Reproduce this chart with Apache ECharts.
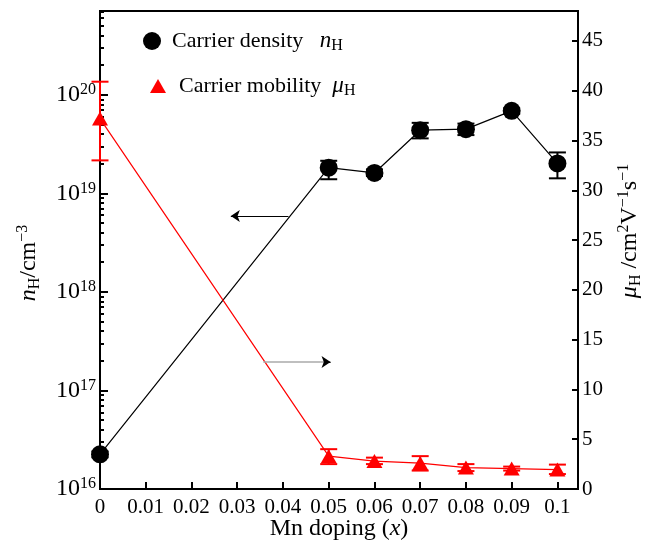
<!DOCTYPE html>
<html><head><meta charset="utf-8">
<script src="https://cdn.jsdelivr.net/npm/echarts@6/dist/echarts.min.js"></script>
<style>html,body{margin:0;padding:0;background:#fff}#c{width:651px;height:545px}</style>
</head><body><div id="c"></div>
<script>
// ---- data ----
const doping = [0, 0.05, 0.06, 0.07, 0.08, 0.09, 0.1];
const density = [2.25e16, 1.82e19, 1.61e19, 4.37e19, 4.48e19, 6.87e19, 2.01e19];
const densityLow = [2.1e16, 1.39e19, 1.5e19, 3.61e19, 3.9e19, 6.4e19, 1.42e19];
const densityHigh = [2.4e16, 2.14e19, 1.75e19, 5.19e19, 5.1e19, 7.3e19, 2.6e19];
const mobility = [37.2, 3.3, 2.8, 2.6, 2.15, 2.05, 1.95];
const mobilityLow = [33.0, 2.5, 2.5, 1.85, 1.8, 1.85, 1.5];
const mobilityHigh = [40.9, 4.0, 3.15, 3.3, 2.5, 2.25, 2.45];
const xTicks = [0, 0.01, 0.02, 0.03, 0.04, 0.05, 0.06, 0.07, 0.08, 0.09, 0.1];
const mobilityTicks = [0, 5, 10, 15, 20, 25, 30, 35, 40, 45];
const densityDecades = [1e16, 1e17, 1e18, 1e19, 1e20];
const densityMax = 7.08e20;
const arrowLeftFrom = [0.0412, 5.9e18], arrowLeftTo = [0.0286, 5.9e18];
const arrowRightFrom = [0.0357, 12.75], arrowRightTo = [0.0504, 12.75];

const densityMinor = [];
densityDecades.forEach(d => { for (let m = 2; m <= 9; m++) { if (d * m < densityMax) densityMinor.push(d * m); } });

const FF = "'Liberation Serif','Times New Roman',serif";
const chart = echarts.init(document.getElementById('c'));

function errorSeries(low, high, color, yIndex) {
  return {
    type: 'custom', xAxisIndex: 0, yAxisIndex: yIndex, z: 2, silent: true, clip: false,
    encode: { x: 0, y: [1, 2] },
    data: doping.map((x, i) => [x, low[i], high[i]]),
    renderItem: (params, api) => {
      const x = api.value(0);
      const lo = api.coord([x, api.value(1)]);
      const hi = api.coord([x, api.value(2)]);
      const w = 8.5;
      const st = { stroke: color, lineWidth: 2 };
      return { type: 'group', children: [
        { type: 'line', shape: { x1: lo[0], y1: lo[1], x2: hi[0], y2: hi[1] }, style: st },
        { type: 'line', shape: { x1: lo[0] - w, y1: lo[1], x2: lo[0] + w, y2: lo[1] }, style: st },
        { type: 'line', shape: { x1: hi[0] - w, y1: hi[1], x2: hi[0] + w, y2: hi[1] }, style: st }
      ]};
    }
  };
}

const legendRich = {
  i: { fontSize: 23, fontFamily: FF, fontStyle: 'italic', color: '#000', lineHeight: 26 },
  sub: { fontSize: 16, fontFamily: FF, color: '#000', verticalAlign: 'bottom', lineHeight: 15 }
};
const supStyle = { fontSize: 16, fontFamily: FF, color: '#000', verticalAlign: 'top', lineHeight: 14 };
const option = {
  backgroundColor: '#fff',
  animation: false,
  grid: { left: 100, right: 73, top: 11, bottom: 56, show: true, borderColor: '#000', borderWidth: 2,
    backgroundColor: 'transparent', outerBoundsMode: 'none', containLabel: false },
  legend: [
    { data: [{ name: 'density', icon: 'circle' }], left: 138, top: 23, itemWidth: 18, itemHeight: 18,
      selectedMode: false,
      formatter: () => 'Carrier density   {i|n}{sub|H}',
      textStyle: { fontSize: 22, fontFamily: FF, color: '#000', padding: [0, 0, 0, 6], lineHeight: 26, rich: legendRich } },
    { data: [{ name: 'mobility', icon: 'triangle' }], left: 145, top: 68, itemWidth: 16, itemHeight: 14,
      selectedMode: false,
      formatter: () => 'Carrier mobility  {i|μ}{sub|H}',
      textStyle: { fontSize: 22, fontFamily: FF, color: '#000', padding: [0, 0, 0, 8], lineHeight: 26, rich: legendRich } }
  ],
  xAxis: {
    type: 'value', min: 0, max: 0.1045, interval: 0.01,
    axisLine: { lineStyle: { color: '#000', width: 2 } },
    axisTick: { inside: true, length: 7, customValues: xTicks, lineStyle: { color: '#000', width: 2 } },
    axisLabel: { customValues: xTicks, fontSize: 21, fontFamily: FF, color: '#000', margin: 8,
      formatter: v => String(+(+v).toFixed(2)) },
    splitLine: { show: false },
    name: 'Mn doping ({i|x})', nameLocation: 'middle', nameGap: 28, nameMoveOverlap: false,
    nameTextStyle: { fontSize: 24, fontFamily: FF, color: '#000',
      rich: { i: { fontSize: 24, fontFamily: FF, fontStyle: 'italic', color: '#000' } } }
  },
  yAxis: [
    { type: 'log', logBase: 10, min: 1e16, max: densityMax, position: 'left',
      axisLine: { show: true, lineStyle: { color: '#000', width: 2 } },
      axisTick: { inside: true, length: 8, customValues: densityDecades, lineStyle: { color: '#000', width: 2 } },
      axisLabel: { customValues: densityDecades, margin: 4, fontSize: 24, fontFamily: FF, color: '#000',
        formatter: v => { const e = Math.log10(v); return Math.abs(e - Math.round(e)) < 1e-6 ? '{b|10}{s|' + Math.round(e) + '}' : ''; },
        rich: { b: { fontSize: 24, fontFamily: FF, color: '#000', lineHeight: 26 }, s: supStyle } },
      splitLine: { show: false },
      name: '{i|n}{sub|H}/cm{sup|−3}', nameLocation: 'middle', nameGap: 57,
      nameTextStyle: { fontSize: 24, fontFamily: FF, color: '#000', lineHeight: 28, padding: [0, 26, 0, 0],
        rich: { i: { fontSize: 24, fontFamily: FF, fontStyle: 'italic', color: '#000', lineHeight: 28 },
                sub: { fontSize: 16, fontFamily: FF, color: '#000', verticalAlign: 'bottom', lineHeight: 16 },
                sup: { fontSize: 16, fontFamily: FF, color: '#000', verticalAlign: 'top', lineHeight: 14 } } } },
    { type: 'value', min: 0, max: 48, interval: 5, position: 'right',
      axisLine: { show: true, lineStyle: { color: '#000', width: 2 } },
      axisTick: { inside: true, length: 6, customValues: mobilityTicks, lineStyle: { color: '#000', width: 2 } },
      axisLabel: { customValues: mobilityTicks, margin: 4, fontSize: 21, fontFamily: FF, color: '#000' },
      splitLine: { show: false },
      name: '{i|μ}{sub|H} /cm{sup|2}V{sup|−1}s{sup|−1}', nameLocation: 'middle', nameGap: 38,
      nameTextStyle: { fontSize: 24, fontFamily: FF, color: '#000', lineHeight: 28, padding: [0, 0, 0, 38],
        rich: { i: { fontSize: 24, fontFamily: FF, fontStyle: 'italic', color: '#000', lineHeight: 28 },
                sub: { fontSize: 16, fontFamily: FF, color: '#000', verticalAlign: 'bottom', lineHeight: 16 },
                sup: { fontSize: 16, fontFamily: FF, color: '#000', verticalAlign: 'top', lineHeight: 14 } } } },
    { type: 'log', logBase: 10, min: 1e16, max: densityMax, position: 'left', offset: 0,
      axisLine: { show: false }, axisLabel: { show: false }, splitLine: { show: false },
      axisTick: { show: true, inside: true, length: 4, customValues: densityMinor, lineStyle: { color: '#000', width: 2 } } }
  ],
  series: [
    errorSeries(densityLow, densityHigh, '#000', 0),
    errorSeries(mobilityLow, mobilityHigh, '#ff0000', 1),
    { name: 'density', type: 'line', xAxisIndex: 0, yAxisIndex: 0, z: 3,
      data: doping.map((x, i) => [x, density[i]]),
      symbol: 'circle', symbolSize: 18, itemStyle: { color: '#000' }, lineStyle: { color: '#000', width: 1.2 } },
    { name: 'mobility', type: 'line', xAxisIndex: 0, yAxisIndex: 1, z: 3,
      data: doping.map((x, i) => [x, mobility[i]]),
      symbol: 'triangle', symbolSize: [16, 14], itemStyle: { color: '#ff0000' }, lineStyle: { color: '#ff0000', width: 1.2 } },
    { type: 'line', xAxisIndex: 0, yAxisIndex: 0, data: [], silent: true,
      markLine: { silent: true, animation: false, symbol: ['none', 'arrow'], symbolSize: [9, 9], label: { show: false },
        lineStyle: { color: '#000', width: 1.2, type: 'solid' },
        data: [[{ coord: arrowLeftFrom }, { coord: arrowLeftTo }]] } },
    { type: 'line', xAxisIndex: 0, yAxisIndex: 1, data: [], silent: true,
      markLine: { silent: true, animation: false, symbol: ['none', 'none'], label: { show: false },
        lineStyle: { color: '#aaaaaa', width: 1.5, type: 'solid' },
        data: [[{ coord: arrowRightFrom }, { coord: arrowRightTo }]] } },
    { type: 'line', xAxisIndex: 0, yAxisIndex: 1, data: [], silent: true,
      markLine: { silent: true, animation: false, symbol: ['none', 'arrow'], symbolSize: [9, 9], label: { show: false },
        lineStyle: { color: '#000', width: 1, type: 'solid' },
        data: [[{ coord: [arrowRightTo[0] - 0.001, arrowRightTo[1]] }, { coord: arrowRightTo }]] } }
  ]
};
chart.setOption(option);
</script></body></html>
